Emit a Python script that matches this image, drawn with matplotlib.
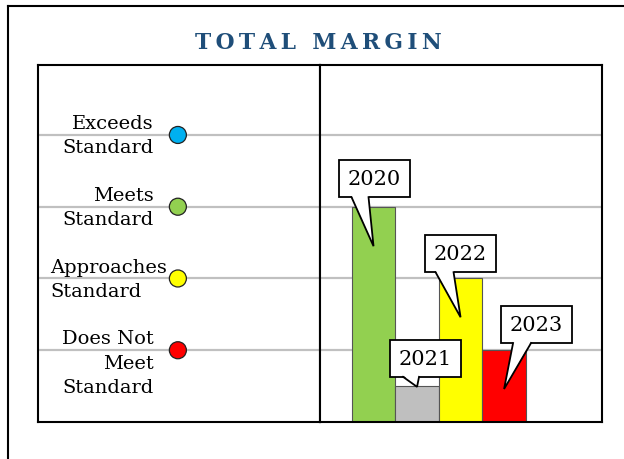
import matplotlib
matplotlib.use("Agg")
import matplotlib.pyplot as plt
from matplotlib.patches import Rectangle, Polygon
from matplotlib.lines import Line2D

plt.rcParams["font.family"] = "DejaVu Serif"

# data
years = ["2020", "2021", "2022", "2023"]
values = [3, 0.5, 2, 1]
bar_colors = ["#92d050", "#bfbfbf", "#ffff00", "#ff0000"]

levels = [1, 2, 3, 4]
level_labels = ["Does Not\nMeet\nStandard", "Approaches\nStandard", "Meets\nStandard", "Exceeds\nStandard"]
level_colors = ["#ff0000", "#ffff00", "#92d050", "#00b0f0"]

# callout layout (pixels relative to the tip): box left, box bottom, base left, base right
tip_drop = [0.55, 0.01, 0.54, 0.54]
callout_pos = [(-35, 49, -22, -5), (-27, 10, -14, 2), (-36, 45, -25, -7), (-3, 46, 9, 27)]

W, H = 624, 460
fig = plt.figure(figsize=(W / 100, H / 100), dpi=100)

# outer frame (left and top only)
fig.add_artist(Line2D([8 / W, 8 / W], [0, 1 - 7 / H], color="black", lw=1.5, transform=fig.transFigure))
fig.add_artist(Line2D([8 / W, 1], [1 - 7 / H, 1 - 7 / H], color="black", lw=1.5, transform=fig.transFigure))

title = "\u2009".join("TOTAL") + "\u2009 \u2009" + "\u2009".join("MARGIN")
fig.text(318 / W, 1 - 43 / H, title, ha="center", va="center",
         fontsize=15.7, fontweight="bold", color="#1f4e79")

bottom = 1 - 423 / H
height = 357 / H
axl = fig.add_axes([38 / W, bottom, 282 / W, height])
axr = fig.add_axes([320 / W, bottom, 282 / W, height])

ymax = 4.975
for ax in (axl, axr):
    ax.set_ylim(0, ymax)
    ax.set_xticks([])
    ax.set_yticks([])
    for s in ax.spines.values():
        s.set_linewidth(1.5)
        s.set_color("black")
    for lv in levels:
        ax.axhline(lv, color="#c0c0c0", lw=1.6, zorder=0)

# left panel: level labels and dots
axl.set_xlim(0, 1)
axl.scatter([0.496] * len(levels), levels, s=150, c=level_colors, edgecolors="#222222",
            linewidths=0.9, zorder=3)
for lv, lab in zip(levels, level_labels):
    if lab.startswith("Approaches"):
        axl.text(0.043, lv + 0.29, lab, ha="left", va="top", fontsize=14, color="black",
                 linespacing=1.45, multialignment="left")
    else:
        axl.text(0.411, lv + 0.29, lab, ha="right", va="top", fontsize=14, color="black",
                 linespacing=1.45, multialignment="right")

# right panel: bars
x = list(range(len(years)))
axr.set_xlim(-1.23, 5.25)
axr.bar(x, values, width=1.0, color=bar_colors, edgecolor="#555555", linewidth=0.8, zorder=2)


def callout(ax, xt, yt, label, pos):
    bx, by, b0, b1 = pos
    tx, ty = ax.transData.transform((xt, yt))
    inv = ax.transData.inverted()
    w, h = 71, 37
    x0, y0 = inv.transform((tx + bx, ty + by))
    x1, y1 = inv.transform((tx + bx + w, ty + by + h))
    ax.add_patch(Rectangle((x0, y0), x1 - x0, y1 - y0, facecolor="white", edgecolor="black",
                           lw=1.3, zorder=5, clip_on=False))
    p0 = inv.transform((tx + b0, ty + by + 1.5))
    p1 = inv.transform((tx + b1, ty + by + 1.5))
    ax.add_patch(Polygon([p0, (xt, yt), p1], closed=True, facecolor="white", edgecolor="none",
                         zorder=6, clip_on=False))
    q0 = inv.transform((tx + b0, ty + by))
    q1 = inv.transform((tx + b1, ty + by))
    ax.plot([q0[0], xt, q1[0]], [q0[1], yt, q1[1]], color="black", lw=1.3, zorder=7,
            clip_on=False, solid_joinstyle="miter")
    ax.text((x0 + x1) / 2, (y0 + y1) / 2, label, ha="center", va="center", fontsize=15,
            color="black", zorder=8)


for i, (yr, v) in enumerate(zip(years, values)):
    callout(axr, x[i], v - tip_drop[i], yr, callout_pos[i])

fig.savefig("out.png", dpi=100)
